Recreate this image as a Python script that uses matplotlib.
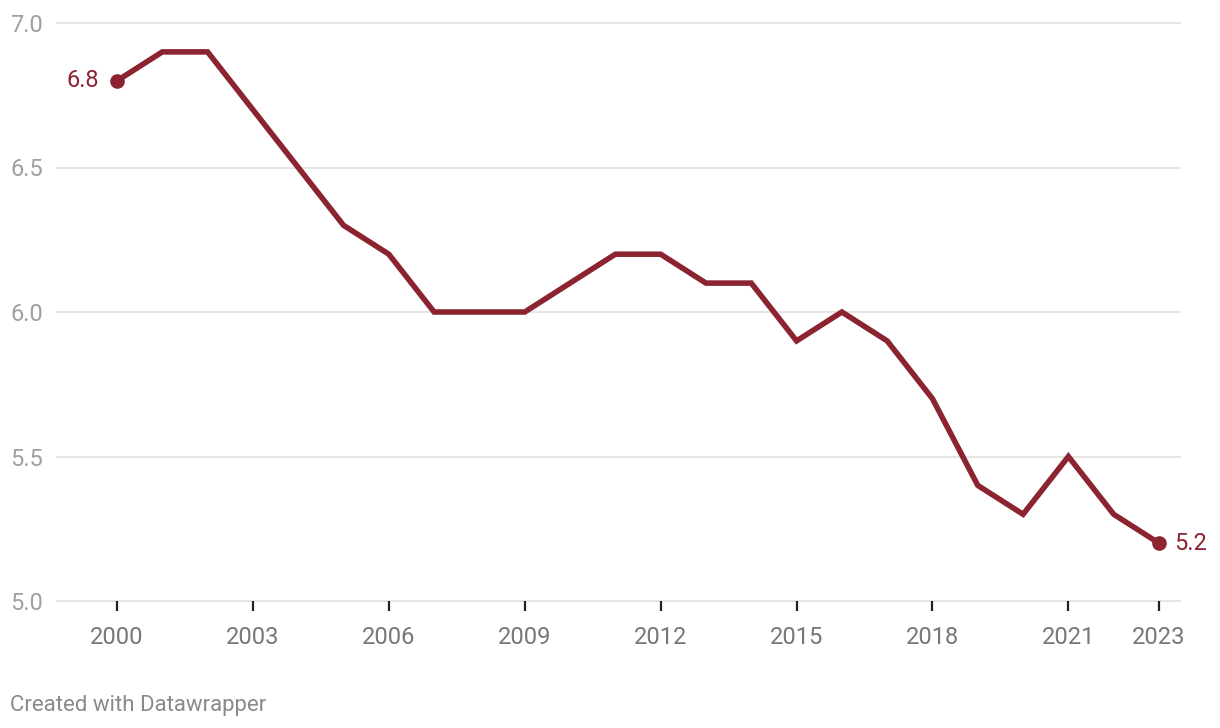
import matplotlib
matplotlib.use("Agg")
import matplotlib.pyplot as plt

years = list(range(2000, 2024))
values = [6.8, 6.9, 6.9, 6.7, 6.5, 6.3, 6.2, 6.0, 6.0, 6.0, 6.1, 6.2, 6.2,
          6.1, 6.1, 5.9, 6.0, 5.9, 5.7, 5.4, 5.3, 5.5, 5.3, 5.2]
xticks = [2000, 2003, 2006, 2009, 2012, 2015, 2018, 2021, 2023]
yticks = [5.0, 5.5, 6.0, 6.5, 7.0]

plt.rcParams['font.family'] = ['Roboto', 'DejaVu Sans']
color = '#8b2330'

fig = plt.figure(figsize=(12.2, 7.28), dpi=100)
ax = fig.add_axes([57/1220, 1 - 601/728, (1180 - 57)/1220, (601 - 23)/728])
ax.set_xlim(2000 - 60/45.3, 2023 + 21/45.3)
ax.set_ylim(5.0, 7.0)

for y in yticks:
    ax.axhline(y, color='#e0e0e0', lw=1.2, zorder=1, clip_on=False)

ax.plot(years, values, color=color, lw=4.0, solid_joinstyle='miter', zorder=3, clip_on=False)
ax.plot([years[0], years[-1]], [values[0], values[-1]], 'o', color=color, ms=9.5, zorder=4, clip_on=False)
ax.annotate(f"{values[0]:.1f}", (years[0], values[0]), xytext=(-13, 0), textcoords='offset points',
            ha='right', va='center', color=color, fontsize=17)
ax.annotate(f"{values[-1]:.1f}", (years[-1], values[-1]), xytext=(11, 0), textcoords='offset points',
            ha='left', va='center', color=color, fontsize=17)

for s in ax.spines.values():
    s.set_visible(False)
ax.set_yticks(yticks)
ax.set_yticklabels([f"{y:.1f}" for y in yticks])
ax.tick_params(axis='y', length=0, pad=10, labelsize=17, labelcolor='#a0a0a0')
ax.set_xticks(xticks)
ax.set_xticklabels([str(x) for x in xticks])
ax.tick_params(axis='x', length=7, width=1.6, color='#222222', pad=11, labelsize=17, labelcolor='#777777')

fig.text(10/1220, 1 - 705/728, "Created with Datawrapper", fontsize=16, color='#8a8a8a', ha='left', va='center')

fig.savefig("out.png", dpi=100)
